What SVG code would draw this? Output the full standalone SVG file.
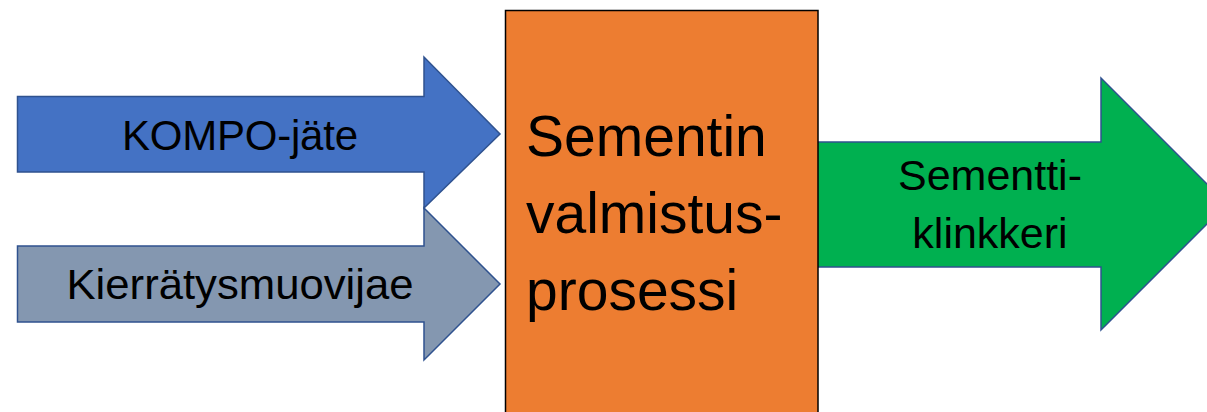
<svg xmlns="http://www.w3.org/2000/svg" width="1207" height="412" viewBox="0 0 1207 412">
<style>
.arr{stroke:#2F528F;stroke-width:1.5;stroke-linejoin:miter}
.t{font-family:"Liberation Sans",Arial,sans-serif;fill:#000}
</style>
<rect width="1207" height="412" fill="#fff"/>
<g id="connectors">
<g id="kompo">
<polygon class="arr" fill="#4472C4" points="17.5,96.5 424,96.5 424,57 500,134 424,208 424,172 17.5,172"/>
<text class="t" x="240" y="150" font-size="42" text-anchor="middle" textLength="236">KOMPO-jäte</text>
</g>
<g id="kierratys">
<polygon class="arr" fill="#8497B0" points="17.5,246 424,246 424,208 500,284 424,360 424,322 17.5,322"/>
<text class="t" x="240" y="299" font-size="42" text-anchor="middle" textLength="347" lengthAdjust="spacingAndGlyphs">Kierrätysmuovijae</text>
</g>
<g id="klinkkeri">
<polygon class="arr" fill="#00B050" points="817,142 1101,142 1101,78 1227,204 1101,330 1101,267 817,267"/>
<text class="t" font-size="43" text-anchor="middle"><tspan x="990" y="190">Sementti-</tspan><tspan x="990" y="248">klinkkeri</tspan></text>
</g>
</g>
<g id="prosessi">
<rect x="505.5" y="10.5" width="312.5" height="410" fill="#ED7D31" stroke="#000" stroke-width="1.5"/>
<text class="t" font-size="57"><tspan x="526" y="156">Sementin</tspan><tspan x="526" y="233">valmistus-</tspan><tspan x="526" y="310">prosessi</tspan></text>
</g>
</svg>
